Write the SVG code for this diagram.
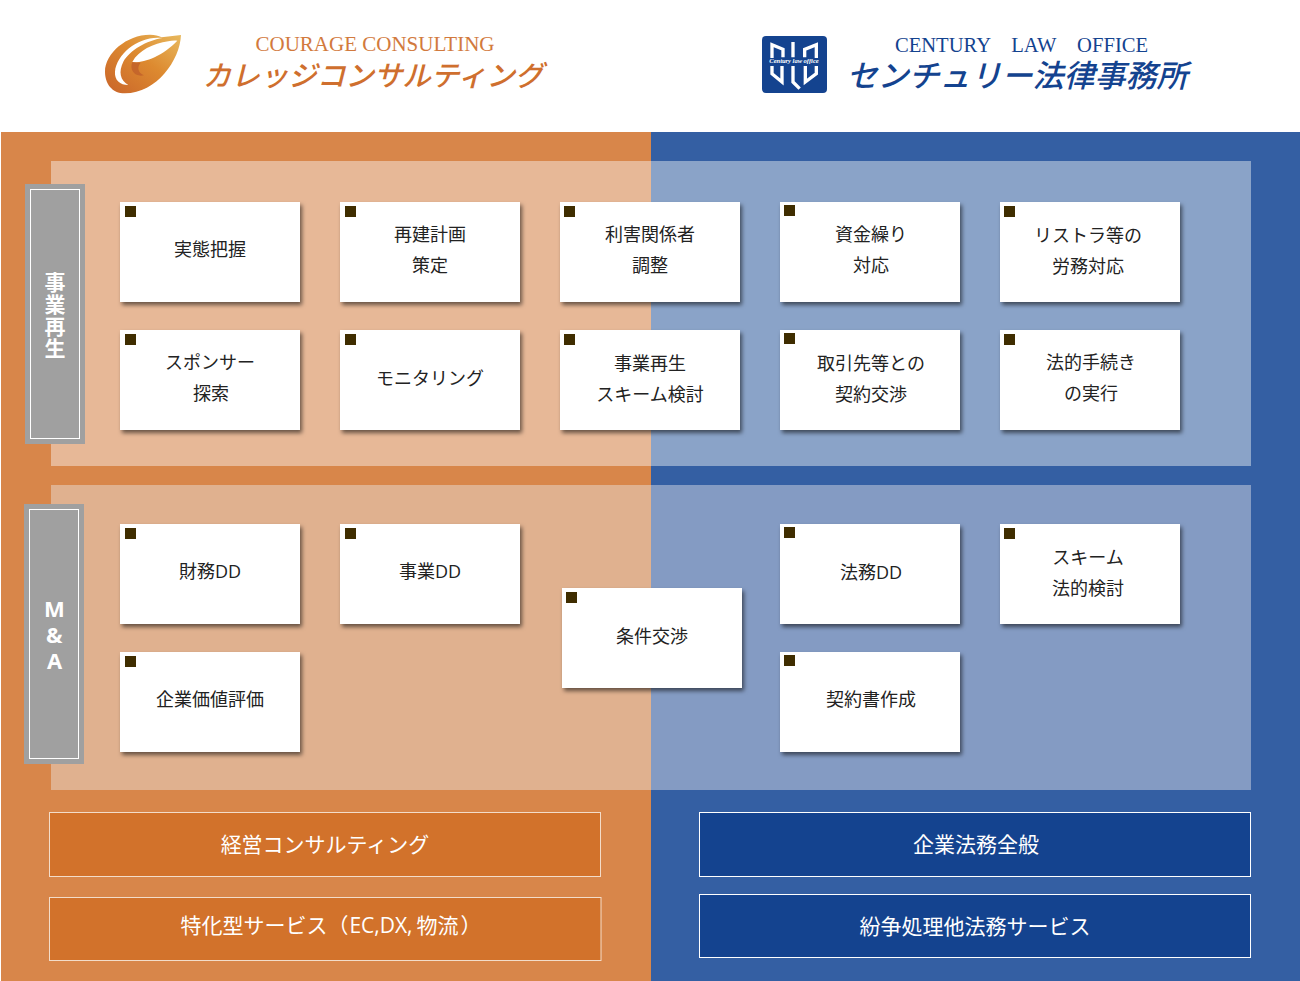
<svg xmlns="http://www.w3.org/2000/svg" width="1300" height="981" viewBox="0 0 1300 981">
<style>
text{font-family:"Open Sans","Noto Sans CJK JP",sans-serif}
.c{fill:#fff;filter:url(#s)}
.m{fill:#3f2d00}
.t{font-size:18px;fill:#222;text-anchor:middle}
.side{fill:#a0a0a0}
.in{fill:none;stroke:#fff;stroke-width:1}
.v{font-size:22px;font-weight:700;fill:#fff;writing-mode:vertical-rl;text-orientation:upright}
.vj{font-family:"Noto Sans CJK JP",sans-serif;font-size:21px}
.b{font-size:21px;fill:#fff;text-anchor:middle;text-spacing-trim:space-all}
.bo{fill:#d2722b;stroke:#f3dcc9;stroke-width:1}
.bb{fill:#14438f;stroke:#fff;stroke-width:1}
.lat{font-family:"Liberation Serif",serif;font-size:20.600px;text-anchor:middle}
.jp{font-style:italic;text-anchor:middle;font-family:"Noto Sans CJK JP",sans-serif}
</style>
<defs>
<filter id="s" x="-5%" y="-5%" width="112%" height="115%"><feDropShadow dx="2" dy="3" stdDeviation="2" flood-color="#000" flood-opacity=".55"/></filter>
<linearGradient id="g" x1="0" y1="1" x2="1" y2="0"><stop offset="0" stop-color="#c9642a"/><stop offset=".55" stop-color="#dd8a30"/><stop offset="1" stop-color="#e8b95e"/></linearGradient>
</defs>
<rect width="1300" height="981" fill="#fff"/>
<g id="background">
<rect x="1" y="132" width="650" height="849" fill="#d8864a"/>
<rect x="651" y="132" width="649" height="849" fill="#345fa3"/>
<rect x="51" y="161" width="600" height="305" fill="#e7b897"/>
<rect x="651" y="161" width="600" height="305" fill="#8aa3c8"/>
<rect x="51" y="485" width="600" height="305" fill="#e0b18f"/>
<rect x="651" y="485" width="600" height="305" fill="#849bc3"/>
</g>
<g id="logo-courage">
<g transform="translate(100 30) scale(.3333)">
<path d="M243 15C240 90 170 190 75 190C35 190 15 160 15 125C15 70 80 14 150 14C165 14 175 17 185 22Z" fill="url(#g)"/>
<path d="M187 24C120 15 50 70 45 125C43 150 60 165 85 165C60 150 55 125 70 95C90 60 140 32 187 24Z" fill="#fff"/>
<path d="M205 34C160 40 115 62 97 96C125 100 185 82 232 32C222 31 213 32 205 34Z" fill="#fff"/>
<path d="M97 96C88 118 102 142 132 136C114 128 110 112 122 98C112 98 104 97 97 96Z" fill="#c5662b"/>
</g>
<text class="lat" x="375" y="51" style="font-size:21px" fill="#d27a3d">COURAGE CONSULTING</text>
<text class="jp" x="373" y="86" font-size="28.500" font-weight="500" fill="#cf6f2e">カレッジコンサルティング</text>
</g>
<g id="logo-century">
<rect x="762" y="36" width="65" height="57" rx="4" fill="#14438f"/>
<g transform="translate(758 32) scale(.3333)" fill="none" stroke="#fff" stroke-width="10">
<path d="M42 78V38L75 52V76M42 102V125L72 150V102"/>
<path d="M105 30V76M105 102V150L125 170"/>
<path d="M175 78V38L140 52V76M175 102V125L142 150V102"/>
</g>
<text x="794" y="63" font-size="6.500" font-style="italic" font-weight="700" fill="#fff" text-anchor="middle" style="font-family:'Liberation Serif',serif">Century law office</text>
<text class="lat" x="1021.500" y="52" fill="#14438f" xml:space="preserve">CENTURY　LAW　OFFICE</text>
<text class="jp" x="1017" y="87" font-size="31" fill="#14438f" font-weight="500">センチュリー法律事務所</text>
</g>
<g id="side-saisei"><rect class="side" x="25" y="184" width="60" height="260"/><rect class="in" x="30.500" y="189.500" width="49" height="249"/>
<text class="v vj" x="55" y="272" letter-spacing=".7">事業再生</text></g>
<g id="side-ma"><rect class="side" x="24" y="504" width="60" height="260"/><rect class="in" x="29.500" y="509.500" width="49" height="249"/>
<text class="v" x="54" y="593" letter-spacing="-4">M&amp;A</text></g>
<g id="n1"><rect class="c" x="120" y="202" width="180" height="100"/><rect class="m" x="125" y="206" width="11" height="11"/><text class="t" x="210" y="256">実態把握</text></g>
<g id="n2"><rect class="c" x="340" y="202" width="180" height="100"/><rect class="m" x="345" y="206" width="11" height="11"/><text class="t" x="430" y="241">再建計画</text><text class="t" x="430" y="272">策定</text></g>
<g id="n3"><rect class="c" x="560" y="202" width="180" height="100"/><rect class="m" x="564" y="206" width="11" height="11"/><text class="t" x="650" y="241">利害関係者</text><text class="t" x="650" y="272">調整</text></g>
<g id="n4"><rect class="c" x="780" y="202" width="180" height="100"/><rect class="m" x="784" y="205" width="11" height="11"/><text class="t" x="871" y="241">資金繰り</text><text class="t" x="871" y="272">対応</text></g>
<g id="n5"><rect class="c" x="1000" y="202" width="180" height="100"/><rect class="m" x="1004" y="206" width="11" height="11"/><text class="t" x="1088" y="242">リストラ等の</text><text class="t" x="1088" y="273">労務対応</text></g>
<g id="n6"><rect class="c" x="120" y="330" width="180" height="100"/><rect class="m" x="125" y="334" width="11" height="11"/><text class="t" x="210" y="369">スポンサー</text><text class="t" x="211" y="400">探索</text></g>
<g id="n7"><rect class="c" x="340" y="330" width="180" height="100"/><rect class="m" x="345" y="334" width="11" height="11"/><text class="t" x="430" y="385">モニタリング</text></g>
<g id="n8"><rect class="c" x="560" y="330" width="180" height="100"/><rect class="m" x="564" y="334" width="11" height="11"/><text class="t" x="650" y="370">事業再生</text><text class="t" x="650" y="401">スキーム検討</text></g>
<g id="n9"><rect class="c" x="780" y="330" width="180" height="100"/><rect class="m" x="784" y="333" width="11" height="11"/><text class="t" x="871" y="370">取引先等との</text><text class="t" x="871" y="401">契約交渉</text></g>
<g id="n10"><rect class="c" x="1000" y="330" width="180" height="100"/><rect class="m" x="1004" y="334" width="11" height="11"/><text class="t" x="1091" y="369">法的手続き</text><text class="t" x="1091" y="400">の実行</text></g>
<g id="n11"><rect class="c" x="120" y="524" width="180" height="100"/><rect class="m" x="125" y="528" width="11" height="11"/><text class="t" x="210" y="578">財務DD</text></g>
<g id="n12"><rect class="c" x="340" y="524" width="180" height="100"/><rect class="m" x="345" y="528" width="11" height="11"/><text class="t" x="430" y="578">事業DD</text></g>
<g id="n13"><rect class="c" x="120" y="652" width="180" height="100"/><rect class="m" x="125" y="656" width="11" height="11"/><text class="t" x="210" y="706">企業価値評価</text></g>
<g id="n14"><rect class="c" x="562" y="588" width="180" height="100"/><rect class="m" x="566" y="592" width="11" height="11"/><text class="t" x="652" y="643">条件交渉</text></g>
<g id="n15"><rect class="c" x="780" y="524" width="180" height="100"/><rect class="m" x="784" y="527" width="11" height="11"/><text class="t" x="871" y="579">法務DD</text></g>
<g id="n16"><rect class="c" x="1000" y="524" width="180" height="100"/><rect class="m" x="1004" y="528" width="11" height="11"/><text class="t" x="1088" y="564">スキーム</text><text class="t" x="1088" y="595">法的検討</text></g>
<g id="n17"><rect class="c" x="780" y="652" width="180" height="100"/><rect class="m" x="784" y="655" width="11" height="11"/><text class="t" x="871" y="706">契約書作成</text></g>
<g id="b1"><rect class="bo" x="49.500" y="812.500" width="551" height="64"/><text class="b" x="325" y="852">経営コンサルティング</text></g>
<g id="b2"><rect class="bo" x="49.500" y="897.500" width="551.500" height="63"/><text class="b" x="331" y="933">特化型サービス（<tspan dx="1">EC,DX,</tspan><tspan dx="4">物流</tspan><tspan dx="2">）</tspan></text></g>
<g id="b3"><rect class="bb" x="699.500" y="812.500" width="551" height="64"/><text class="b" x="976" y="852">企業法務全般</text></g>
<g id="b4"><rect class="bb" x="699.500" y="894.500" width="551" height="63"/><text class="b" x="975" y="934">紛争処理他法務サービス</text></g>
<g id="connectors"></g>
</svg>
